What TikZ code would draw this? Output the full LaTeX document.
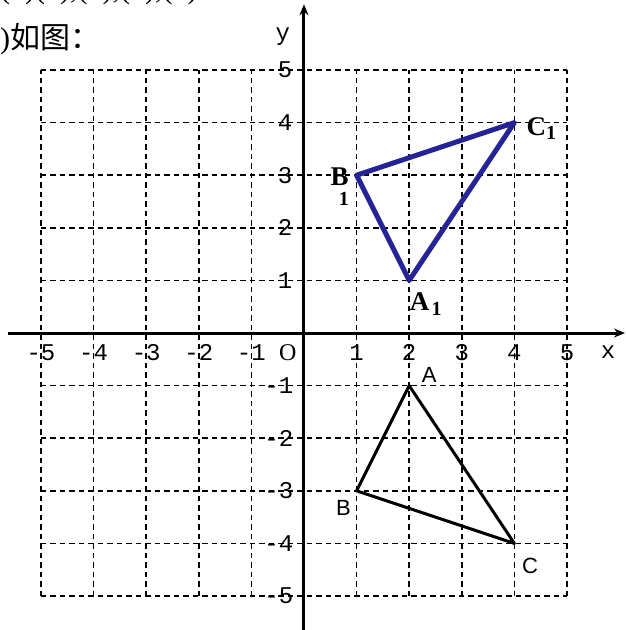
\documentclass[tikz,border=0pt]{standalone}
\usepackage{fontspec}
\setmainfont{Liberation Serif}
\newfontfamily\cjk{Noto Sans CJK SC}
\newfontfamily\tickfont{Liberation Mono}
\newfontfamily\labfont{Liberation Sans}
\usetikzlibrary{arrows.meta}
\definecolor{navy}{RGB}{36,36,150}
\tikzset{
  gridline/.style={line width=1.7pt, dash pattern=on 5.5pt off 4pt},
  axis/.style={line width=3pt, -{Stealth[length=11pt,width=9pt]}},
  tick/.style={font=\tickfont\fontsize{24}{24}\selectfont, inner sep=0pt},
  plainlab/.style={font=\labfont\fontsize{22}{22}\selectfont, inner sep=0pt},
  boldlab/.style={font=\bfseries\fontsize{27}{27}\selectfont, inner sep=0pt},
  sublab/.style={font=\bfseries\fontsize{20}{20}\selectfont, inner sep=0pt},
  blacktri/.style={line width=3pt, line join=round},
  bluetri/.style={draw=navy, line width=5pt, line join=round}
}
\begin{document}
\begin{tikzpicture}[x=52.6pt,y=52.6pt]
\useasboundingbox (-5.779,-5.646) rectangle (6.103,6.331);
% header text
\node[anchor=base west, inner sep=0pt, font=\fontsize{30}{30}\selectfont] (hdr1) at (-5.779,6.36) {(1)(2),(1),(3),(4)};
\node[anchor=base west, inner sep=0pt, font=\fontsize{30}{30}\selectfont] (hdr2) at (-5.779,5.40) {)\cjk 如图：};
% grid
\foreach \i in {-5,-4,-3,-2,-1,1,2,3,4,5} {
  \draw[gridline] (\i,-5) -- (\i,5);
  \draw[gridline] (-5,\i) -- (5,\i);
}
% axes
\coordinate (xs) at (-5.63,0);
\coordinate (xe) at (6.103,0);
\coordinate (ys) at (0,-5.646);
\coordinate (ye) at (0,6.25);
\draw[axis] (xs) -- (xe);
\draw[axis] (ys) -- (ye);
% tick labels
\foreach \i in {-5,-4,-3,-2,-1,1,2,3,4,5} {
  \node[tick] (tx\i) at (\i,-0.37) {\i};
}
\foreach \i in {1,2,3,4,5} {
  \node[tick] (ty\i) at (-0.36,\i) {\i};
}
\foreach \i in {-1,-2,-3,-4,-5} {
  \node[tick, anchor=east] (ty\i) at (-0.2,\i) {\i};
}
\node[inner sep=0pt, font=\fontsize{24}{24}\selectfont] (O) at (-0.31,-0.37) {O};
\node[tick] (xl) at (5.78,-0.37) {x};
\node[tick] (yl) at (-0.4,5.63) {y};
% black triangle ABC
\coordinate (A) at (2,-1);
\coordinate (B) at (1,-3);
\coordinate (C) at (4,-4);
\draw[blacktri] (A) -- (B) -- (C) -- cycle;
\node[plainlab] (Al) at (2.38,-0.8) {A};
\node[plainlab] (Bl) at (0.75,-3.33) {B};
\node[plainlab] (Cl) at (4.3,-4.42) {C};
% blue triangle A1B1C1
\coordinate (A1) at (2,1);
\coordinate (B1) at (1,3);
\coordinate (C1) at (4,4);
\draw[bluetri] (A1) -- (B1) -- (C1) -- cycle;
\node[boldlab] (A1l) at (2.2,0.6) {A};
\node[sublab] (A1s) at (2.52,0.45) {1};
\node[boldlab] (B1l) at (0.68,2.97) {B};
\node[sublab] (B1s) at (0.76,2.55) {1};
\node[boldlab] (C1l) at (4.42,3.93) {C};
\node[sublab] (C1s) at (4.7,3.8) {1};
\end{tikzpicture}
\end{document}
